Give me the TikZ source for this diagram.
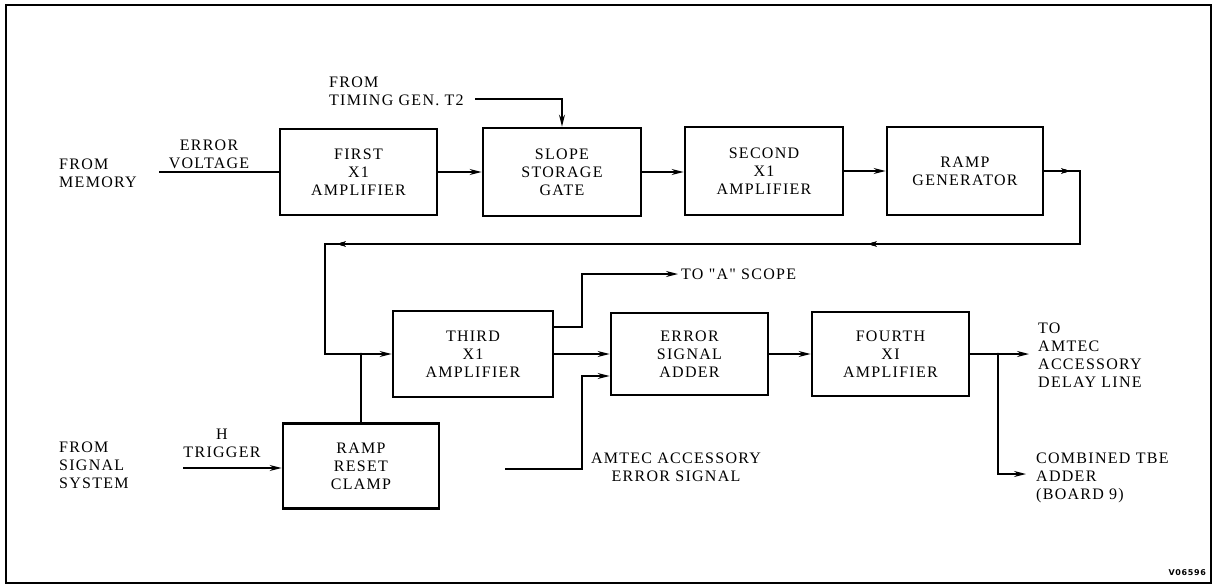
\documentclass[tikz,border=0pt]{standalone}
\usepackage{fontspec}
\setmainfont{Liberation Serif}[LetterSpace=8]
\newfontfamily\qfont{Liberation Serif}[LetterSpace=8,Ligatures=TeXOff]
\newfontfamily\vfont{DejaVu Sans}[LetterSpace=8]
\usetikzlibrary{arrows.meta,decorations.markings,calc}
\begin{document}
\begin{tikzpicture}[x=1pt,y=-1pt,
  blk/.style={draw,line width=2.8pt,minimum width=#1,inner sep=0pt,align=center,font=\fontsize{16}{18}\selectfont},
  lbl/.style={inner sep=0pt,align=left,font=\fontsize{16}{18}\selectfont},
  wire/.style={line width=1.5pt},
  arr/.style={wire,-{Stealth[length=12pt,width=6pt]}},
  midarr/.style={postaction={decorate},decoration={markings,mark=at position #1 with {\arrow{Stealth[length=9pt,width=5pt]}}}}
]
\useasboundingbox (0,0) rectangle (1213,587);
\draw[line width=1.8pt] (6,5) rectangle (1211,583);

% boxes
\node[blk=157pt,minimum height=86pt] (first) at (358.5,172) {FIRST\\X1\\AMPLIFIER};
\node[blk=158pt,minimum height=88pt] (slope) at (562,172) {SLOPE\\STORAGE\\GATE};
\node[blk=158pt,minimum height=88pt] (second) at (764,171) {SECOND\\X1\\AMPLIFIER};
\node[blk=156pt,minimum height=88pt] (ramp) at (965,171) {RAMP\\GENERATOR};
\node[blk=160pt,minimum height=86pt] (third) at (473,354) {THIRD\\X1\\AMPLIFIER};
\node[blk=157pt,minimum height=82pt] (adder) at (689.5,354) {ERROR\\SIGNAL\\ADDER};
\node[blk=157pt,minimum height=84pt] (fourth) at (890.5,354) {FOURTH\\XI\\AMPLIFIER};
\node[blk=156pt,minimum height=85pt] (clamp) at (361,466) {RAMP\\RESET\\CLAMP};

% labels
\node[lbl,anchor=west] (mem) at (59,173) {FROM\\MEMORY};
\node[lbl,align=center] (ev) at (209,154) {ERROR\\VOLTAGE};
\node[lbl,anchor=west] (tim) at (329,91) {FROM\\TIMING GEN. T2};
\node[lbl,anchor=west] (scopet) at (681,274) {\qfont TO "A" SCOPE};
\node[lbl,anchor=west] (dl) at (1038,355) {TO\\AMTEC\\ACCESSORY\\DELAY LINE};
\node[lbl,anchor=west] (tbet) at (1036,478) {COMBINED TBE\\ADDER\\(BOARD 9)};
\node[lbl,align=center] (aet) at (676,467) {AMTEC ACCESSORY\\ERROR SIGNAL};
\node[lbl,align=center] (htt) at (222,443) {H\\TRIGGER};
\node[lbl,anchor=west] (sig) at (59,465) {FROM\\SIGNAL\\SYSTEM};
\node[inner sep=0pt,anchor=east,font=\vfont\fontsize{8}{9}\selectfont\bfseries] (vid) at (1206,573) {V06596};

% coordinates
\coordinate (evs) at (159,172);
\coordinate (t2s) at (475,99);
\coordinate (fb1) at (1080,244);
\coordinate (fb2) at (325,244);
\coordinate (j) at (clamp.north |- third.west);
\coordinate (sc) at (582,274);
\coordinate (scope) at (678,274);
\coordinate (ae0) at (505,469);
\coordinate (ae1) at (582,469);
\coordinate (out) at (1029,354);
\coordinate (br) at (998,354);
\coordinate (tbe) at (1026,474);
\coordinate (hts) at (183,468);

% connectors
\draw[wire] (evs) -- (first.west |- evs);
\draw[arr] (t2s) -| (slope.north);
\draw[arr] (first.east |- slope.west) -- (slope.west);
\draw[arr] (slope.east) -- (second.west |- slope.east);
\draw[arr] (second.east) -- (ramp.west);
\draw[arr,midarr=26pt,midarr=321pt,midarr=852pt] (ramp.east) -| (fb1) -- (fb2) |- (third.west);
\draw[wire] (clamp.north) -- (j);
\fill (j) circle (1.4pt);
\draw[arr] (third.east) -- (adder.west);
\draw[arr] ([yshift=27pt]third.east) -| (sc) -- (scope);
\draw[arr] (ae0) -- (ae1) |- ([yshift=-22pt]adder.west);
\draw[arr] (adder.east) -- (fourth.west);
\draw[arr] (fourth.east) -- (out);
\fill (br) circle (1.4pt);
\draw[arr] (br) |- (tbe);
\draw[arr] (hts) -- (clamp.west |- hts);
\end{tikzpicture}
\end{document}
